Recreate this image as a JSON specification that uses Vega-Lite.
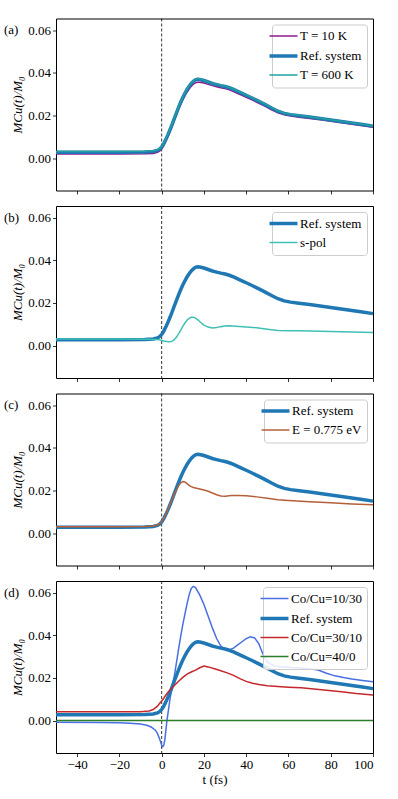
{
"$schema": "https://vega.github.io/schema/vega-lite/v6.json",
"padding": {"left": 3, "top": 17.5, "right": 5, "bottom": 5},
"background": "white",
"bounds": "flush",
"spacing": 15.5,
"config": {
  "font": "Liberation Serif",
  "view": {"stroke": "black", "strokeWidth": 1},
  "axis": {"domain": false, "grid": false, "tickColor": "black", "tickSize": 3.5, "tickWidth": 0.8, "labelFont": "Liberation Serif", "labelFontSize": 13, "labelColor": "black", "titleFont": "Liberation Serif", "titleFontSize": 13, "titleFontWeight": "normal", "titleColor": "black", "labelPadding": 2},
  "legend": {"orient": "top-right", "offset": 6, "padding": 5, "strokeColor": "#cccccc", "fillColor": "rgba(255,255,255,0.85)", "cornerRadius": 3, "labelFont": "Liberation Serif", "labelFontSize": 13, "labelColor": "black", "symbolType": "stroke", "symbolSize": 784, "rowPadding": 5, "labelOffset": 10},
  "title": {"anchor": "start", "frame": "group", "dx": -52, "fontSize": 13, "fontWeight": "normal", "font": "Liberation Serif", "color": "black", "offset": -19, "baseline": "alphabetic"}
},
"resolve": {"scale": {"color": "independent"}, "legend": {"color": "independent"}},
"datasets": {
  "a": [
    {"s":"T = 10 K","t":-50,"v":0.0019},{"s":"T = 10 K","t":-20,"v":0.0019},{"s":"T = 10 K","t":-8,"v":0.0020},{"s":"T = 10 K","t":-4,"v":0.0022},{"s":"T = 10 K","t":-2,"v":0.0027},{"s":"T = 10 K","t":-1,"v":0.0033},{"s":"T = 10 K","t":0,"v":0.0043},{"s":"T = 10 K","t":1,"v":0.0059},{"s":"T = 10 K","t":2,"v":0.0079},{"s":"T = 10 K","t":3,"v":0.0101},{"s":"T = 10 K","t":4,"v":0.0125},{"s":"T = 10 K","t":5,"v":0.0151},{"s":"T = 10 K","t":6,"v":0.0177},{"s":"T = 10 K","t":7,"v":0.0203},{"s":"T = 10 K","t":8,"v":0.0229},{"s":"T = 10 K","t":9,"v":0.0252},{"s":"T = 10 K","t":10,"v":0.0273},{"s":"T = 10 K","t":11,"v":0.0292},{"s":"T = 10 K","t":12,"v":0.0309},{"s":"T = 10 K","t":13,"v":0.0324},{"s":"T = 10 K","t":14,"v":0.0337},{"s":"T = 10 K","t":15,"v":0.0347},{"s":"T = 10 K","t":16,"v":0.0353},{"s":"T = 10 K","t":17,"v":0.0356},{"s":"T = 10 K","t":18,"v":0.0356},{"s":"T = 10 K","t":20,"v":0.0352},{"s":"T = 10 K","t":22,"v":0.0346},{"s":"T = 10 K","t":24,"v":0.0340},{"s":"T = 10 K","t":26,"v":0.0335},{"s":"T = 10 K","t":28,"v":0.0330},{"s":"T = 10 K","t":30,"v":0.0326},{"s":"T = 10 K","t":32,"v":0.0320},{"s":"T = 10 K","t":34,"v":0.0312},{"s":"T = 10 K","t":36,"v":0.0303},{"s":"T = 10 K","t":38,"v":0.0294},{"s":"T = 10 K","t":40,"v":0.0285},{"s":"T = 10 K","t":43,"v":0.0272},{"s":"T = 10 K","t":46,"v":0.0257},{"s":"T = 10 K","t":49,"v":0.0243},{"s":"T = 10 K","t":52,"v":0.0227},{"s":"T = 10 K","t":55,"v":0.0213},{"s":"T = 10 K","t":58,"v":0.0203},{"s":"T = 10 K","t":61,"v":0.0197},{"s":"T = 10 K","t":65,"v":0.0192},{"s":"T = 10 K","t":70,"v":0.0186},{"s":"T = 10 K","t":75,"v":0.0180},{"s":"T = 10 K","t":80,"v":0.0173},{"s":"T = 10 K","t":85,"v":0.0166},{"s":"T = 10 K","t":90,"v":0.0159},{"s":"T = 10 K","t":95,"v":0.0152},{"s":"T = 10 K","t":100,"v":0.0145},
    {"s":"Ref. system","t":-50,"v":0.0028},{"s":"Ref. system","t":-20,"v":0.0028},{"s":"Ref. system","t":-8,"v":0.0029},{"s":"Ref. system","t":-4,"v":0.0031},{"s":"Ref. system","t":-2,"v":0.0036},{"s":"Ref. system","t":-1,"v":0.0042},{"s":"Ref. system","t":0,"v":0.0052},{"s":"Ref. system","t":1,"v":0.0068},{"s":"Ref. system","t":2,"v":0.0088},{"s":"Ref. system","t":3,"v":0.0110},{"s":"Ref. system","t":4,"v":0.0134},{"s":"Ref. system","t":5,"v":0.0160},{"s":"Ref. system","t":6,"v":0.0186},{"s":"Ref. system","t":7,"v":0.0212},{"s":"Ref. system","t":8,"v":0.0238},{"s":"Ref. system","t":9,"v":0.0262},{"s":"Ref. system","t":10,"v":0.0284},{"s":"Ref. system","t":11,"v":0.0304},{"s":"Ref. system","t":12,"v":0.0322},{"s":"Ref. system","t":13,"v":0.0337},{"s":"Ref. system","t":14,"v":0.0350},{"s":"Ref. system","t":15,"v":0.0360},{"s":"Ref. system","t":16,"v":0.0367},{"s":"Ref. system","t":17,"v":0.0370},{"s":"Ref. system","t":18,"v":0.0369},{"s":"Ref. system","t":20,"v":0.0364},{"s":"Ref. system","t":22,"v":0.0357},{"s":"Ref. system","t":24,"v":0.0350},{"s":"Ref. system","t":26,"v":0.0345},{"s":"Ref. system","t":28,"v":0.0340},{"s":"Ref. system","t":30,"v":0.0336},{"s":"Ref. system","t":32,"v":0.0330},{"s":"Ref. system","t":34,"v":0.0322},{"s":"Ref. system","t":36,"v":0.0313},{"s":"Ref. system","t":38,"v":0.0304},{"s":"Ref. system","t":40,"v":0.0295},{"s":"Ref. system","t":43,"v":0.0281},{"s":"Ref. system","t":46,"v":0.0266},{"s":"Ref. system","t":49,"v":0.0251},{"s":"Ref. system","t":52,"v":0.0235},{"s":"Ref. system","t":55,"v":0.0220},{"s":"Ref. system","t":58,"v":0.0210},{"s":"Ref. system","t":61,"v":0.0204},{"s":"Ref. system","t":65,"v":0.0199},{"s":"Ref. system","t":70,"v":0.0193},{"s":"Ref. system","t":75,"v":0.0186},{"s":"Ref. system","t":80,"v":0.0179},{"s":"Ref. system","t":85,"v":0.0172},{"s":"Ref. system","t":90,"v":0.0165},{"s":"Ref. system","t":95,"v":0.0158},{"s":"Ref. system","t":100,"v":0.0150},
    {"s":"T = 600 K","t":-50,"v":0.0031},{"s":"T = 600 K","t":-20,"v":0.0031},{"s":"T = 600 K","t":-8,"v":0.0032},{"s":"T = 600 K","t":-4,"v":0.0034},{"s":"T = 600 K","t":-2,"v":0.0039},{"s":"T = 600 K","t":-1,"v":0.0045},{"s":"T = 600 K","t":0,"v":0.0055},{"s":"T = 600 K","t":1,"v":0.0071},{"s":"T = 600 K","t":2,"v":0.0091},{"s":"T = 600 K","t":3,"v":0.0113},{"s":"T = 600 K","t":4,"v":0.0137},{"s":"T = 600 K","t":5,"v":0.0163},{"s":"T = 600 K","t":6,"v":0.0189},{"s":"T = 600 K","t":7,"v":0.0215},{"s":"T = 600 K","t":8,"v":0.0241},{"s":"T = 600 K","t":9,"v":0.0265},{"s":"T = 600 K","t":10,"v":0.0287},{"s":"T = 600 K","t":11,"v":0.0307},{"s":"T = 600 K","t":12,"v":0.0325},{"s":"T = 600 K","t":13,"v":0.0340},{"s":"T = 600 K","t":14,"v":0.0353},{"s":"T = 600 K","t":15,"v":0.0363},{"s":"T = 600 K","t":16,"v":0.0370},{"s":"T = 600 K","t":17,"v":0.0373},{"s":"T = 600 K","t":18,"v":0.0372},{"s":"T = 600 K","t":20,"v":0.0366},{"s":"T = 600 K","t":22,"v":0.0359},{"s":"T = 600 K","t":24,"v":0.0352},{"s":"T = 600 K","t":26,"v":0.0347},{"s":"T = 600 K","t":28,"v":0.0342},{"s":"T = 600 K","t":30,"v":0.0338},{"s":"T = 600 K","t":32,"v":0.0332},{"s":"T = 600 K","t":34,"v":0.0324},{"s":"T = 600 K","t":36,"v":0.0315},{"s":"T = 600 K","t":38,"v":0.0306},{"s":"T = 600 K","t":40,"v":0.0297},{"s":"T = 600 K","t":43,"v":0.0283},{"s":"T = 600 K","t":46,"v":0.0268},{"s":"T = 600 K","t":49,"v":0.0253},{"s":"T = 600 K","t":52,"v":0.0237},{"s":"T = 600 K","t":55,"v":0.0222},{"s":"T = 600 K","t":58,"v":0.0212},{"s":"T = 600 K","t":61,"v":0.0206},{"s":"T = 600 K","t":65,"v":0.0201},{"s":"T = 600 K","t":70,"v":0.0194},{"s":"T = 600 K","t":75,"v":0.0187},{"s":"T = 600 K","t":80,"v":0.0180},{"s":"T = 600 K","t":85,"v":0.0173},{"s":"T = 600 K","t":90,"v":0.0166},{"s":"T = 600 K","t":95,"v":0.0159},{"s":"T = 600 K","t":100,"v":0.0151}
  ],
  "b": [
    {"s":"Ref. system","t":-50,"v":0.0028},{"s":"Ref. system","t":-20,"v":0.0028},{"s":"Ref. system","t":-8,"v":0.0029},{"s":"Ref. system","t":-4,"v":0.0031},{"s":"Ref. system","t":-2,"v":0.0036},{"s":"Ref. system","t":-1,"v":0.0042},{"s":"Ref. system","t":0,"v":0.0052},{"s":"Ref. system","t":1,"v":0.0068},{"s":"Ref. system","t":2,"v":0.0088},{"s":"Ref. system","t":3,"v":0.0110},{"s":"Ref. system","t":4,"v":0.0134},{"s":"Ref. system","t":5,"v":0.0160},{"s":"Ref. system","t":6,"v":0.0186},{"s":"Ref. system","t":7,"v":0.0212},{"s":"Ref. system","t":8,"v":0.0238},{"s":"Ref. system","t":9,"v":0.0262},{"s":"Ref. system","t":10,"v":0.0284},{"s":"Ref. system","t":11,"v":0.0304},{"s":"Ref. system","t":12,"v":0.0322},{"s":"Ref. system","t":13,"v":0.0337},{"s":"Ref. system","t":14,"v":0.0350},{"s":"Ref. system","t":15,"v":0.0360},{"s":"Ref. system","t":16,"v":0.0367},{"s":"Ref. system","t":17,"v":0.0370},{"s":"Ref. system","t":18,"v":0.0369},{"s":"Ref. system","t":20,"v":0.0364},{"s":"Ref. system","t":22,"v":0.0357},{"s":"Ref. system","t":24,"v":0.0350},{"s":"Ref. system","t":26,"v":0.0345},{"s":"Ref. system","t":28,"v":0.0340},{"s":"Ref. system","t":30,"v":0.0336},{"s":"Ref. system","t":32,"v":0.0330},{"s":"Ref. system","t":34,"v":0.0322},{"s":"Ref. system","t":36,"v":0.0313},{"s":"Ref. system","t":38,"v":0.0304},{"s":"Ref. system","t":40,"v":0.0295},{"s":"Ref. system","t":43,"v":0.0281},{"s":"Ref. system","t":46,"v":0.0266},{"s":"Ref. system","t":49,"v":0.0251},{"s":"Ref. system","t":52,"v":0.0235},{"s":"Ref. system","t":55,"v":0.0220},{"s":"Ref. system","t":58,"v":0.0210},{"s":"Ref. system","t":61,"v":0.0204},{"s":"Ref. system","t":65,"v":0.0199},{"s":"Ref. system","t":70,"v":0.0193},{"s":"Ref. system","t":75,"v":0.0186},{"s":"Ref. system","t":80,"v":0.0179},{"s":"Ref. system","t":85,"v":0.0172},{"s":"Ref. system","t":90,"v":0.0165},{"s":"Ref. system","t":95,"v":0.0158},{"s":"Ref. system","t":100,"v":0.0150},
    {"s":"s-pol","t":-50,"v":0.0031},{"s":"s-pol","t":-20,"v":0.0031},{"s":"s-pol","t":-6,"v":0.0030},{"s":"s-pol","t":-3,"v":0.0029},{"s":"s-pol","t":-1,"v":0.0027},{"s":"s-pol","t":1,"v":0.0022},{"s":"s-pol","t":3,"v":0.0018},{"s":"s-pol","t":4,"v":0.0018},{"s":"s-pol","t":5,"v":0.0021},{"s":"s-pol","t":6,"v":0.0028},{"s":"s-pol","t":7,"v":0.0040},{"s":"s-pol","t":8,"v":0.0055},{"s":"s-pol","t":9,"v":0.0072},{"s":"s-pol","t":10,"v":0.0090},{"s":"s-pol","t":11,"v":0.0106},{"s":"s-pol","t":12,"v":0.0119},{"s":"s-pol","t":13,"v":0.0128},{"s":"s-pol","t":14,"v":0.0133},{"s":"s-pol","t":15,"v":0.0133},{"s":"s-pol","t":16,"v":0.0129},{"s":"s-pol","t":17,"v":0.0122},{"s":"s-pol","t":18,"v":0.0113},{"s":"s-pol","t":19,"v":0.0104},{"s":"s-pol","t":20,"v":0.0096},{"s":"s-pol","t":22,"v":0.0087},{"s":"s-pol","t":24,"v":0.0083},{"s":"s-pol","t":26,"v":0.0085},{"s":"s-pol","t":28,"v":0.0089},{"s":"s-pol","t":30,"v":0.0092},{"s":"s-pol","t":32,"v":0.0093},{"s":"s-pol","t":35,"v":0.0091},{"s":"s-pol","t":40,"v":0.0087},{"s":"s-pol","t":45,"v":0.0084},{"s":"s-pol","t":50,"v":0.0077},{"s":"s-pol","t":55,"v":0.0071},{"s":"s-pol","t":60,"v":0.0070},{"s":"s-pol","t":65,"v":0.0070},{"s":"s-pol","t":70,"v":0.0069},{"s":"s-pol","t":80,"v":0.0066},{"s":"s-pol","t":90,"v":0.0064},{"s":"s-pol","t":100,"v":0.0061}
  ],
  "c": [
    {"s":"Ref. system","t":-50,"v":0.0028},{"s":"Ref. system","t":-20,"v":0.0028},{"s":"Ref. system","t":-8,"v":0.0029},{"s":"Ref. system","t":-4,"v":0.0031},{"s":"Ref. system","t":-2,"v":0.0036},{"s":"Ref. system","t":-1,"v":0.0042},{"s":"Ref. system","t":0,"v":0.0052},{"s":"Ref. system","t":1,"v":0.0068},{"s":"Ref. system","t":2,"v":0.0088},{"s":"Ref. system","t":3,"v":0.0110},{"s":"Ref. system","t":4,"v":0.0134},{"s":"Ref. system","t":5,"v":0.0160},{"s":"Ref. system","t":6,"v":0.0186},{"s":"Ref. system","t":7,"v":0.0212},{"s":"Ref. system","t":8,"v":0.0238},{"s":"Ref. system","t":9,"v":0.0262},{"s":"Ref. system","t":10,"v":0.0284},{"s":"Ref. system","t":11,"v":0.0304},{"s":"Ref. system","t":12,"v":0.0322},{"s":"Ref. system","t":13,"v":0.0337},{"s":"Ref. system","t":14,"v":0.0350},{"s":"Ref. system","t":15,"v":0.0360},{"s":"Ref. system","t":16,"v":0.0367},{"s":"Ref. system","t":17,"v":0.0370},{"s":"Ref. system","t":18,"v":0.0369},{"s":"Ref. system","t":20,"v":0.0364},{"s":"Ref. system","t":22,"v":0.0357},{"s":"Ref. system","t":24,"v":0.0350},{"s":"Ref. system","t":26,"v":0.0345},{"s":"Ref. system","t":28,"v":0.0340},{"s":"Ref. system","t":30,"v":0.0336},{"s":"Ref. system","t":32,"v":0.0330},{"s":"Ref. system","t":34,"v":0.0322},{"s":"Ref. system","t":36,"v":0.0313},{"s":"Ref. system","t":38,"v":0.0304},{"s":"Ref. system","t":40,"v":0.0295},{"s":"Ref. system","t":43,"v":0.0281},{"s":"Ref. system","t":46,"v":0.0266},{"s":"Ref. system","t":49,"v":0.0251},{"s":"Ref. system","t":52,"v":0.0235},{"s":"Ref. system","t":55,"v":0.0220},{"s":"Ref. system","t":58,"v":0.0210},{"s":"Ref. system","t":61,"v":0.0204},{"s":"Ref. system","t":65,"v":0.0199},{"s":"Ref. system","t":70,"v":0.0193},{"s":"Ref. system","t":75,"v":0.0186},{"s":"Ref. system","t":80,"v":0.0179},{"s":"Ref. system","t":85,"v":0.0172},{"s":"Ref. system","t":90,"v":0.0165},{"s":"Ref. system","t":95,"v":0.0158},{"s":"Ref. system","t":100,"v":0.0150},
    {"s":"E = 0.775 eV","t":-50,"v":0.0030},{"s":"E = 0.775 eV","t":-20,"v":0.0030},{"s":"E = 0.775 eV","t":-8,"v":0.0031},{"s":"E = 0.775 eV","t":-4,"v":0.0033},{"s":"E = 0.775 eV","t":-2,"v":0.0038},{"s":"E = 0.775 eV","t":-1,"v":0.0044},{"s":"E = 0.775 eV","t":0,"v":0.0054},{"s":"E = 0.775 eV","t":1,"v":0.0070},{"s":"E = 0.775 eV","t":2,"v":0.0090},{"s":"E = 0.775 eV","t":3,"v":0.0112},{"s":"E = 0.775 eV","t":4,"v":0.0136},{"s":"E = 0.775 eV","t":5,"v":0.0160},{"s":"E = 0.775 eV","t":6,"v":0.0183},{"s":"E = 0.775 eV","t":7,"v":0.0204},{"s":"E = 0.775 eV","t":8,"v":0.0222},{"s":"E = 0.775 eV","t":9,"v":0.0236},{"s":"E = 0.775 eV","t":10,"v":0.0242},{"s":"E = 0.775 eV","t":11,"v":0.0240},{"s":"E = 0.775 eV","t":12,"v":0.0232},{"s":"E = 0.775 eV","t":13,"v":0.0224},{"s":"E = 0.775 eV","t":14,"v":0.0218},{"s":"E = 0.775 eV","t":15,"v":0.0214},{"s":"E = 0.775 eV","t":16,"v":0.0212},{"s":"E = 0.775 eV","t":18,"v":0.0207},{"s":"E = 0.775 eV","t":20,"v":0.0202},{"s":"E = 0.775 eV","t":22,"v":0.0196},{"s":"E = 0.775 eV","t":24,"v":0.0188},{"s":"E = 0.775 eV","t":26,"v":0.0180},{"s":"E = 0.775 eV","t":28,"v":0.0174},{"s":"E = 0.775 eV","t":30,"v":0.0173},{"s":"E = 0.775 eV","t":33,"v":0.0176},{"s":"E = 0.775 eV","t":36,"v":0.0177},{"s":"E = 0.775 eV","t":40,"v":0.0175},{"s":"E = 0.775 eV","t":45,"v":0.0170},{"s":"E = 0.775 eV","t":50,"v":0.0163},{"s":"E = 0.775 eV","t":55,"v":0.0157},{"s":"E = 0.775 eV","t":60,"v":0.0153},{"s":"E = 0.775 eV","t":70,"v":0.0147},{"s":"E = 0.775 eV","t":80,"v":0.0142},{"s":"E = 0.775 eV","t":90,"v":0.0137},{"s":"E = 0.775 eV","t":100,"v":0.0133}
  ],
  "d": [
    {"s":"Co/Cu=10/30","t":-50,"v":-0.0008},{"s":"Co/Cu=10/30","t":-30,"v":-0.0009},{"s":"Co/Cu=10/30","t":-20,"v":-0.0010},{"s":"Co/Cu=10/30","t":-15,"v":-0.0012},{"s":"Co/Cu=10/30","t":-10,"v":-0.0016},{"s":"Co/Cu=10/30","t":-7,"v":-0.0022},{"s":"Co/Cu=10/30","t":-5,"v":-0.0030},{"s":"Co/Cu=10/30","t":-3,"v":-0.0045},{"s":"Co/Cu=10/30","t":-2,"v":-0.0060},{"s":"Co/Cu=10/30","t":-1,"v":-0.0085},{"s":"Co/Cu=10/30","t":0,"v":-0.0115},{"s":"Co/Cu=10/30","t":0.5,"v":-0.0122},{"s":"Co/Cu=10/30","t":1,"v":-0.0115},{"s":"Co/Cu=10/30","t":1.5,"v":-0.0090},{"s":"Co/Cu=10/30","t":2,"v":-0.0045},{"s":"Co/Cu=10/30","t":2.5,"v":0.0000},{"s":"Co/Cu=10/30","t":3,"v":0.0035},{"s":"Co/Cu=10/30","t":4,"v":0.0105},{"s":"Co/Cu=10/30","t":5,"v":0.0160},{"s":"Co/Cu=10/30","t":6,"v":0.0210},{"s":"Co/Cu=10/30","t":7,"v":0.0272},{"s":"Co/Cu=10/30","t":8,"v":0.0335},{"s":"Co/Cu=10/30","t":9,"v":0.0395},{"s":"Co/Cu=10/30","t":10,"v":0.0450},{"s":"Co/Cu=10/30","t":11,"v":0.0500},{"s":"Co/Cu=10/30","t":12,"v":0.0548},{"s":"Co/Cu=10/30","t":13,"v":0.0590},{"s":"Co/Cu=10/30","t":14,"v":0.0620},{"s":"Co/Cu=10/30","t":15,"v":0.0630},{"s":"Co/Cu=10/30","t":16,"v":0.0624},{"s":"Co/Cu=10/30","t":18,"v":0.0590},{"s":"Co/Cu=10/30","t":20,"v":0.0545},{"s":"Co/Cu=10/30","t":22,"v":0.0490},{"s":"Co/Cu=10/30","t":24,"v":0.0435},{"s":"Co/Cu=10/30","t":26,"v":0.0385},{"s":"Co/Cu=10/30","t":28,"v":0.0350},{"s":"Co/Cu=10/30","t":30,"v":0.0335},{"s":"Co/Cu=10/30","t":32,"v":0.0331},{"s":"Co/Cu=10/30","t":34,"v":0.0340},{"s":"Co/Cu=10/30","t":36,"v":0.0355},{"s":"Co/Cu=10/30","t":38,"v":0.0370},{"s":"Co/Cu=10/30","t":40,"v":0.0385},{"s":"Co/Cu=10/30","t":42,"v":0.0393},{"s":"Co/Cu=10/30","t":44,"v":0.0388},{"s":"Co/Cu=10/30","t":46,"v":0.0360},{"s":"Co/Cu=10/30","t":48,"v":0.0310},{"s":"Co/Cu=10/30","t":50,"v":0.0275},{"s":"Co/Cu=10/30","t":53,"v":0.0258},{"s":"Co/Cu=10/30","t":56,"v":0.0253},{"s":"Co/Cu=10/30","t":60,"v":0.0250},{"s":"Co/Cu=10/30","t":65,"v":0.0247},{"s":"Co/Cu=10/30","t":70,"v":0.0243},{"s":"Co/Cu=10/30","t":74,"v":0.0237},{"s":"Co/Cu=10/30","t":78,"v":0.0222},{"s":"Co/Cu=10/30","t":82,"v":0.0210},{"s":"Co/Cu=10/30","t":86,"v":0.0202},{"s":"Co/Cu=10/30","t":90,"v":0.0195},{"s":"Co/Cu=10/30","t":95,"v":0.0188},{"s":"Co/Cu=10/30","t":100,"v":0.0182},
    {"s":"Ref. system","t":-50,"v":0.0028},{"s":"Ref. system","t":-20,"v":0.0028},{"s":"Ref. system","t":-8,"v":0.0029},{"s":"Ref. system","t":-4,"v":0.0031},{"s":"Ref. system","t":-2,"v":0.0036},{"s":"Ref. system","t":-1,"v":0.0042},{"s":"Ref. system","t":0,"v":0.0052},{"s":"Ref. system","t":1,"v":0.0068},{"s":"Ref. system","t":2,"v":0.0088},{"s":"Ref. system","t":3,"v":0.0110},{"s":"Ref. system","t":4,"v":0.0134},{"s":"Ref. system","t":5,"v":0.0160},{"s":"Ref. system","t":6,"v":0.0186},{"s":"Ref. system","t":7,"v":0.0212},{"s":"Ref. system","t":8,"v":0.0238},{"s":"Ref. system","t":9,"v":0.0262},{"s":"Ref. system","t":10,"v":0.0284},{"s":"Ref. system","t":11,"v":0.0304},{"s":"Ref. system","t":12,"v":0.0322},{"s":"Ref. system","t":13,"v":0.0337},{"s":"Ref. system","t":14,"v":0.0350},{"s":"Ref. system","t":15,"v":0.0360},{"s":"Ref. system","t":16,"v":0.0367},{"s":"Ref. system","t":17,"v":0.0370},{"s":"Ref. system","t":18,"v":0.0369},{"s":"Ref. system","t":20,"v":0.0364},{"s":"Ref. system","t":22,"v":0.0357},{"s":"Ref. system","t":24,"v":0.0350},{"s":"Ref. system","t":26,"v":0.0345},{"s":"Ref. system","t":28,"v":0.0340},{"s":"Ref. system","t":30,"v":0.0336},{"s":"Ref. system","t":32,"v":0.0330},{"s":"Ref. system","t":34,"v":0.0322},{"s":"Ref. system","t":36,"v":0.0313},{"s":"Ref. system","t":38,"v":0.0304},{"s":"Ref. system","t":40,"v":0.0295},{"s":"Ref. system","t":43,"v":0.0281},{"s":"Ref. system","t":46,"v":0.0266},{"s":"Ref. system","t":49,"v":0.0251},{"s":"Ref. system","t":52,"v":0.0235},{"s":"Ref. system","t":55,"v":0.0220},{"s":"Ref. system","t":58,"v":0.0210},{"s":"Ref. system","t":61,"v":0.0204},{"s":"Ref. system","t":65,"v":0.0199},{"s":"Ref. system","t":70,"v":0.0193},{"s":"Ref. system","t":75,"v":0.0186},{"s":"Ref. system","t":80,"v":0.0179},{"s":"Ref. system","t":85,"v":0.0172},{"s":"Ref. system","t":90,"v":0.0165},{"s":"Ref. system","t":95,"v":0.0158},{"s":"Ref. system","t":100,"v":0.0150},
    {"s":"Co/Cu=30/10","t":-50,"v":0.0041},{"s":"Co/Cu=30/10","t":-20,"v":0.0041},{"s":"Co/Cu=30/10","t":-10,"v":0.0042},{"s":"Co/Cu=30/10","t":-6,"v":0.0045},{"s":"Co/Cu=30/10","t":-4,"v":0.0052},{"s":"Co/Cu=30/10","t":-2,"v":0.0068},{"s":"Co/Cu=30/10","t":-1,"v":0.0080},{"s":"Co/Cu=30/10","t":0,"v":0.0092},{"s":"Co/Cu=30/10","t":1,"v":0.0105},{"s":"Co/Cu=30/10","t":2,"v":0.0120},{"s":"Co/Cu=30/10","t":3,"v":0.0133},{"s":"Co/Cu=30/10","t":4,"v":0.0145},{"s":"Co/Cu=30/10","t":6,"v":0.0165},{"s":"Co/Cu=30/10","t":8,"v":0.0185},{"s":"Co/Cu=30/10","t":10,"v":0.0203},{"s":"Co/Cu=30/10","t":12,"v":0.0218},{"s":"Co/Cu=30/10","t":14,"v":0.0228},{"s":"Co/Cu=30/10","t":16,"v":0.0237},{"s":"Co/Cu=30/10","t":18,"v":0.0248},{"s":"Co/Cu=30/10","t":20,"v":0.0256},{"s":"Co/Cu=30/10","t":22,"v":0.0252},{"s":"Co/Cu=30/10","t":25,"v":0.0243},{"s":"Co/Cu=30/10","t":28,"v":0.0234},{"s":"Co/Cu=30/10","t":31,"v":0.0224},{"s":"Co/Cu=30/10","t":34,"v":0.0212},{"s":"Co/Cu=30/10","t":37,"v":0.0197},{"s":"Co/Cu=30/10","t":40,"v":0.0184},{"s":"Co/Cu=30/10","t":43,"v":0.0175},{"s":"Co/Cu=30/10","t":46,"v":0.0169},{"s":"Co/Cu=30/10","t":50,"v":0.0164},{"s":"Co/Cu=30/10","t":55,"v":0.0160},{"s":"Co/Cu=30/10","t":60,"v":0.0157},{"s":"Co/Cu=30/10","t":66,"v":0.0154},{"s":"Co/Cu=30/10","t":72,"v":0.0148},{"s":"Co/Cu=30/10","t":78,"v":0.0142},{"s":"Co/Cu=30/10","t":85,"v":0.0135},{"s":"Co/Cu=30/10","t":92,"v":0.0127},{"s":"Co/Cu=30/10","t":100,"v":0.0120},
    {"s":"Co/Cu=40/0","t":-50,"v":0.0},{"s":"Co/Cu=40/0","t":100,"v":0.0}
  ]
},
"vconcat": [
  {
    "title": "(a)", "width": 317, "height": 172,
    "layer": [
      {"data": {"values": [{"t": 0}]}, "mark": {"type": "rule", "strokeDash": [3, 2], "color": "black", "strokeWidth": 0.8}, "encoding": {"x": {"field": "t", "type": "quantitative", "scale": {"domain": [-50, 100], "nice": false, "zero": false}}}},
      {"data": {"name": "a"}, "mark": {"type": "line"},
       "encoding": {
         "x": {"field": "t", "type": "quantitative", "scale": {"domain": [-50, 100], "nice": false, "zero": false}, "axis": {"labels": false, "title": null, "values": [-40, -20, 0, 20, 40, 60, 80, 100]}},
         "y": {"field": "v", "type": "quantitative", "scale": {"domain": [-0.0152, 0.0655], "nice": false, "zero": false}, "axis": {"values": [0, 0.02, 0.04, 0.06], "format": ".2f", "title": "MCu(t)/M₀", "titleFontStyle": "italic", "titlePadding": 3}},
         "color": {"field": "s", "type": "nominal", "scale": {"domain": ["T = 10 K", "Ref. system", "T = 600 K"], "range": ["#8b1a8b", "#1f77b4", "#22a0a0"]}, "legend": {"title": null, "encode": {"legend": {"update": {"stroke": {"value": "#cccccc"}, "strokeWidth": {"value": 1}, "fill": {"value": "white"}, "fillOpacity": {"value": 0.85}, "cornerRadius": {"value": 3}}}, "symbols": {"update": {"strokeWidth": {"signal": "datum.value === 'Ref. system' ? 3.5 : 1.5"}}}}}},
         "strokeWidth": {"condition": {"test": "datum.s === 'Ref. system'", "value": 3.5}, "value": 1.5}
       }}
    ]
  },
  {
    "title": "(b)", "width": 317, "height": 172,
    "layer": [
      {"data": {"values": [{"t": 0}]}, "mark": {"type": "rule", "strokeDash": [3, 2], "color": "black", "strokeWidth": 0.8}, "encoding": {"x": {"field": "t", "type": "quantitative", "scale": {"domain": [-50, 100], "nice": false, "zero": false}}}},
      {"data": {"name": "b"}, "mark": {"type": "line"},
       "encoding": {
         "x": {"field": "t", "type": "quantitative", "scale": {"domain": [-50, 100], "nice": false, "zero": false}, "axis": {"labels": false, "title": null, "values": [-40, -20, 0, 20, 40, 60, 80, 100]}},
         "y": {"field": "v", "type": "quantitative", "scale": {"domain": [-0.0152, 0.0655], "nice": false, "zero": false}, "axis": {"values": [0, 0.02, 0.04, 0.06], "format": ".2f", "title": "MCu(t)/M₀", "titleFontStyle": "italic", "titlePadding": 3}},
         "color": {"field": "s", "type": "nominal", "scale": {"domain": ["Ref. system", "s-pol"], "range": ["#1f77b4", "#40c0b5"]}, "legend": {"title": null, "encode": {"legend": {"update": {"stroke": {"value": "#cccccc"}, "strokeWidth": {"value": 1}, "fill": {"value": "white"}, "fillOpacity": {"value": 0.85}, "cornerRadius": {"value": 3}}}, "symbols": {"update": {"strokeWidth": {"signal": "datum.value === 'Ref. system' ? 3.5 : 1.5"}}}}}},
         "strokeWidth": {"condition": {"test": "datum.s === 'Ref. system'", "value": 3.5}, "value": 1.5}
       }}
    ]
  },
  {
    "title": "(c)", "width": 317, "height": 172,
    "layer": [
      {"data": {"values": [{"t": 0}]}, "mark": {"type": "rule", "strokeDash": [3, 2], "color": "black", "strokeWidth": 0.8}, "encoding": {"x": {"field": "t", "type": "quantitative", "scale": {"domain": [-50, 100], "nice": false, "zero": false}}}},
      {"data": {"name": "c"}, "mark": {"type": "line"},
       "encoding": {
         "x": {"field": "t", "type": "quantitative", "scale": {"domain": [-50, 100], "nice": false, "zero": false}, "axis": {"labels": false, "title": null, "values": [-40, -20, 0, 20, 40, 60, 80, 100]}},
         "y": {"field": "v", "type": "quantitative", "scale": {"domain": [-0.0152, 0.0655], "nice": false, "zero": false}, "axis": {"values": [0, 0.02, 0.04, 0.06], "format": ".2f", "title": "MCu(t)/M₀", "titleFontStyle": "italic", "titlePadding": 3}},
         "color": {"field": "s", "type": "nominal", "scale": {"domain": ["Ref. system", "E = 0.775 eV"], "range": ["#1f77b4", "#b5603a"]}, "legend": {"title": null, "encode": {"legend": {"update": {"stroke": {"value": "#cccccc"}, "strokeWidth": {"value": 1}, "fill": {"value": "white"}, "fillOpacity": {"value": 0.85}, "cornerRadius": {"value": 3}}}, "symbols": {"update": {"strokeWidth": {"signal": "datum.value === 'Ref. system' ? 3.5 : 1.5"}}}}}},
         "strokeWidth": {"condition": {"test": "datum.s === 'Ref. system'", "value": 3.5}, "value": 1.5}
       }}
    ]
  },
  {
    "title": "(d)", "width": 317, "height": 172,
    "layer": [
      {"data": {"values": [{"t": 0}]}, "mark": {"type": "rule", "strokeDash": [3, 2], "color": "black", "strokeWidth": 0.8}, "encoding": {"x": {"field": "t", "type": "quantitative", "scale": {"domain": [-50, 100], "nice": false, "zero": false}}}},
      {"data": {"name": "d"}, "mark": {"type": "line"},
       "encoding": {
         "x": {"field": "t", "type": "quantitative", "scale": {"domain": [-50, 100], "nice": false, "zero": false}, "axis": {"title": "t (fs)", "values": [-40, -20, 0, 20, 40, 60, 80, 100], "titlePadding": 2}},
         "y": {"field": "v", "type": "quantitative", "scale": {"domain": [-0.0152, 0.0655], "nice": false, "zero": false}, "axis": {"values": [0, 0.02, 0.04, 0.06], "format": ".2f", "title": "MCu(t)/M₀", "titleFontStyle": "italic", "titlePadding": 3}},
         "color": {"field": "s", "type": "nominal", "scale": {"domain": ["Co/Cu=10/30", "Ref. system", "Co/Cu=30/10", "Co/Cu=40/0"], "range": ["#4a6fe3", "#1f77b4", "#c4282c", "#2a7f2a"]}, "legend": {"title": null, "encode": {"legend": {"update": {"stroke": {"value": "#cccccc"}, "strokeWidth": {"value": 1}, "fill": {"value": "white"}, "fillOpacity": {"value": 0.85}, "cornerRadius": {"value": 3}}}, "symbols": {"update": {"strokeWidth": {"signal": "datum.value === 'Ref. system' ? 3.5 : 1.5"}}}}}},
         "strokeWidth": {"condition": {"test": "datum.s === 'Ref. system'", "value": 3.5}, "value": 1.5}
       }}
    ]
  }
]
}
